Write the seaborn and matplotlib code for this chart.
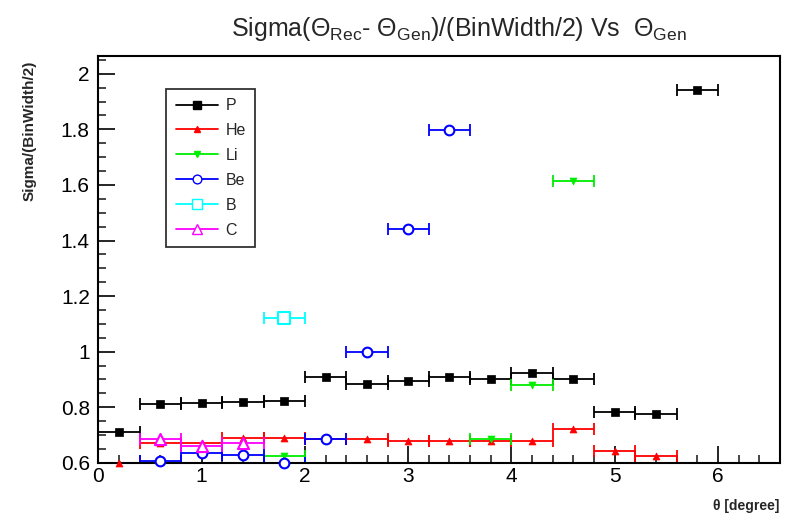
import numpy as np
import pandas as pd
import matplotlib
matplotlib.use("Agg")
import matplotlib.pyplot as plt
from matplotlib.lines import Line2D
from matplotlib.ticker import MultipleLocator
import seaborn as sns

# ---- data ----
p_x = [0.2, 0.6, 1.0, 1.4, 1.8, 2.2, 2.6, 3.0, 3.4, 3.8, 4.2, 4.6, 5.0, 5.4, 5.8]
p_y = [0.71, 0.812, 0.814, 0.818, 0.824, 0.908, 0.882, 0.896, 0.91, 0.902, 0.924, 0.902, 0.782, 0.775, 1.942]
he_x = [0.2, 0.6, 1.0, 1.4, 1.8, 2.2, 2.6, 3.0, 3.4, 3.8, 4.2, 4.6, 5.0, 5.4]
he_y = [0.598, 0.671, 0.671, 0.69, 0.688, 0.687, 0.685, 0.677, 0.677, 0.678, 0.68, 0.722, 0.643, 0.623]
li_x = [1.8, 3.8, 4.2, 4.6]
li_y = [0.625, 0.686, 0.88, 1.613]
be_x = [0.6, 1.0, 1.4, 1.8, 2.2, 2.6, 3.0, 3.4]
be_y = [0.605, 0.637, 0.629, 0.60, 0.687, 1.0, 1.44, 1.798]
b_x = [1.8]
b_y = [1.122]
c_x = [0.6, 1.0, 1.4]
c_y = [0.685, 0.659, 0.67]
bin_half_width = 0.2

series_names = ["P", "He", "Li", "Be", "B", "C"]
series_x = [p_x, he_x, li_x, be_x, b_x, c_x]
series_y = [p_y, he_y, li_y, be_y, b_y, c_y]

colors = {"P": "black", "He": "red", "Li": "#00ee00", "Be": "blue", "B": "cyan", "C": "magenta"}
markers = {"P": "s", "He": "^", "Li": "v", "Be": "o", "B": "s", "C": "^"}
filled = {"P": True, "He": True, "Li": True, "Be": False, "B": False, "C": False}
msize = {"P": 6, "He": 5, "Li": 5, "Be": 7, "B": 8, "C": 8}

rows = []
for n, xs, ys in zip(series_names, series_x, series_y):
    for xv, yv in zip(xs, ys):
        rows.append({"series": n, "theta": xv, "val": yv})
df = pd.DataFrame(rows)

sns.set_theme(style="ticks")
plt.rcParams["font.family"] = ["Liberation Sans", "DejaVu Sans"]
plt.rcParams["mathtext.fontset"] = "custom"
plt.rcParams["mathtext.rm"] = "Liberation Sans"
plt.rcParams["mathtext.it"] = "Liberation Sans"

fig = plt.figure(figsize=(7.92, 5.23), dpi=100)
ax = fig.add_axes([0.124, 0.115, 0.861, 0.778])

for n in series_names:
    sub = df[df["series"] == n]
    ax.errorbar(sub["theta"], sub["val"], xerr=bin_half_width, fmt="none",
                ecolor=colors[n], elinewidth=1.3, capsize=4, capthick=1.3, zorder=2)

for n in series_names:
    sub = df[df["series"] == n]
    sns.scatterplot(data=sub, x="theta", y="val", ax=ax, marker=markers[n],
                    s=msize[n] ** 2,
                    color=colors[n] if filled[n] else "white",
                    edgecolor=colors[n], linewidth=1.5 if not filled[n] else 0.5,
                    legend=False, zorder=3, clip_on=False)

ax.set_xlim(0, 6.6)
ax.set_ylim(0.6, 2.064)
ax.xaxis.set_major_locator(MultipleLocator(1))
ax.xaxis.set_minor_locator(MultipleLocator(0.2))
ax.yaxis.set_major_locator(MultipleLocator(0.2))
ax.yaxis.set_minor_locator(MultipleLocator(0.05))
ax.set_yticks([0.6, 0.8, 1.0, 1.2, 1.4, 1.6, 1.8, 2.0])
ax.set_yticklabels(["0.6", "0.8", "1", "1.2", "1.4", "1.6", "1.8", "2"])
ax.tick_params(axis="both", which="major", direction="in", length=12, width=1.2,
               labelsize=15, colors="black", pad=6)
ax.tick_params(axis="both", which="minor", direction="in", length=6, width=1.2)
ax.tick_params(axis="x", which="major", pad=3)
for s in ax.spines.values():
    s.set_linewidth(1.5)
    s.set_color("black")

ax.set_xlabel("")
ax.set_ylabel("")
fig.text(0.984, 0.02, "θ [degree]", ha="right", va="bottom", fontsize=10, fontweight="bold")
fig.text(0.038, 0.885, "Sigma/(BinWidth/2)", rotation=90, ha="center", va="top",
         fontsize=11, fontweight="bold")

fig.text(0.58, 0.945, r"Sigma($\Theta_{Rec}$- $\Theta_{Gen}$)/(BinWidth/2) Vs  $\Theta_{Gen}$",
         ha="center", va="center", fontsize=18)

handles = []
for n in series_names:
    handles.append(Line2D([0], [0], color=colors[n], lw=1.3, marker=markers[n],
                          markersize=msize[n] * 0.9,
                          markerfacecolor=colors[n] if filled[n] else "white",
                          markeredgecolor=colors[n]))
leg = ax.legend(handles, series_names, loc="upper left", bbox_to_anchor=(0.1, 0.92),
                fontsize=11.5, frameon=True, fancybox=False, edgecolor="black",
                handlelength=2.6, labelspacing=0.62, borderpad=0.6, handletextpad=0.5,
                borderaxespad=0)
leg.get_frame().set_linewidth(1.3)
leg._legend_box.align = "left"

fig.savefig("out.png", dpi=100)
